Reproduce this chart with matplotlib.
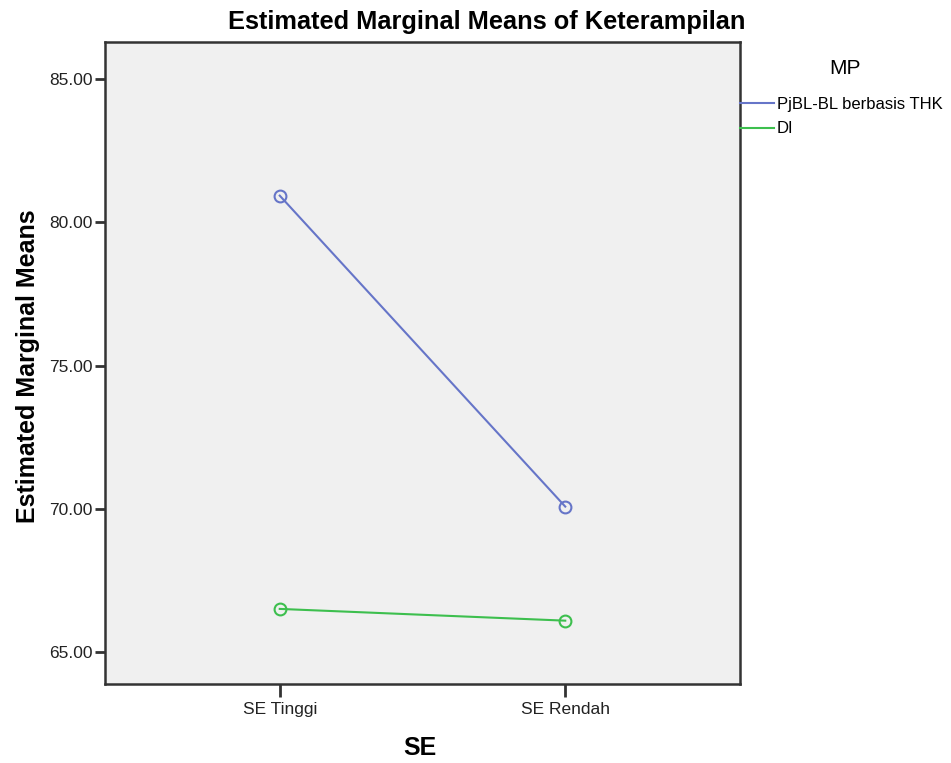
import matplotlib
matplotlib.use("Agg")
import matplotlib.pyplot as plt

categories = ["SE Tinggi", "SE Rendah"]
series_names = ["PjBL-BL berbasis THK", "DI"]
pjbl_values = [80.93, 70.08]
di_values = [66.51, 66.10]
yticks = [65.0, 70.0, 75.0, 80.0, 85.0]
colors = ["#6675c8", "#3dbf4e"]

plt.rcParams['font.family'] = ['Liberation Sans', 'DejaVu Sans']

W, H = 951, 763
fig = plt.figure(figsize=(W/100, H/100), dpi=100)
ax = fig.add_axes([105/W, 79/H, 635/W, 642/H])
ax.set_facecolor("#f0f0f0")

x = list(range(len(categories)))
for vals, name, c in zip([pjbl_values, di_values], series_names, colors):
    ax.plot(x, vals, color=c, lw=1.5, marker='o', markersize=8.5,
            markerfacecolor='none', markeredgecolor=c, markeredgewidth=1.5, label=name)

ax.set_xlim(-0.612, 1.612)
ax.set_ylim(63.89, 86.29)
ax.set_xticks(x)
ax.set_xticklabels(categories)
ax.set_yticks(yticks)
ax.set_yticklabels([f"{v:.2f}" for v in yticks])
ax.tick_params(axis='both', direction='out', length=7, width=2, color='#333333',
               labelsize=12.5, labelcolor='#222222', pad=2)
ax.tick_params(axis='x', length=9, pad=4)
for s in ax.spines.values():
    s.set_color('#333333')
    s.set_linewidth(1.8)

fig.text(28/W, 1 - 366/H, "Estimated Marginal Means", rotation=90,
         ha='center', va='center', fontsize=18, fontweight='bold')
fig.text(420/W, 1 - 748/H, "SE", ha='center', va='center',
         fontsize=18, fontweight='bold')
fig.text(487/W, 1 - 22/H, "Estimated Marginal Means of Keterampilan",
         ha='center', va='center', fontsize=18.3, fontweight='bold')
fig.text(845/W, 1 - 68/H, "MP", ha='center', va='center', fontsize=15)

leg = ax.legend(loc='upper left', bbox_to_anchor=(1.0, 1 - (106 - 42 - 9)/642),
                frameon=False, fontsize=12, borderaxespad=0,
                borderpad=0, handlelength=2.05, handletextpad=0.15, labelspacing=0.56)
for h in leg.legend_handles:
    h.set_marker('')

fig.savefig("out.png", dpi=100)
